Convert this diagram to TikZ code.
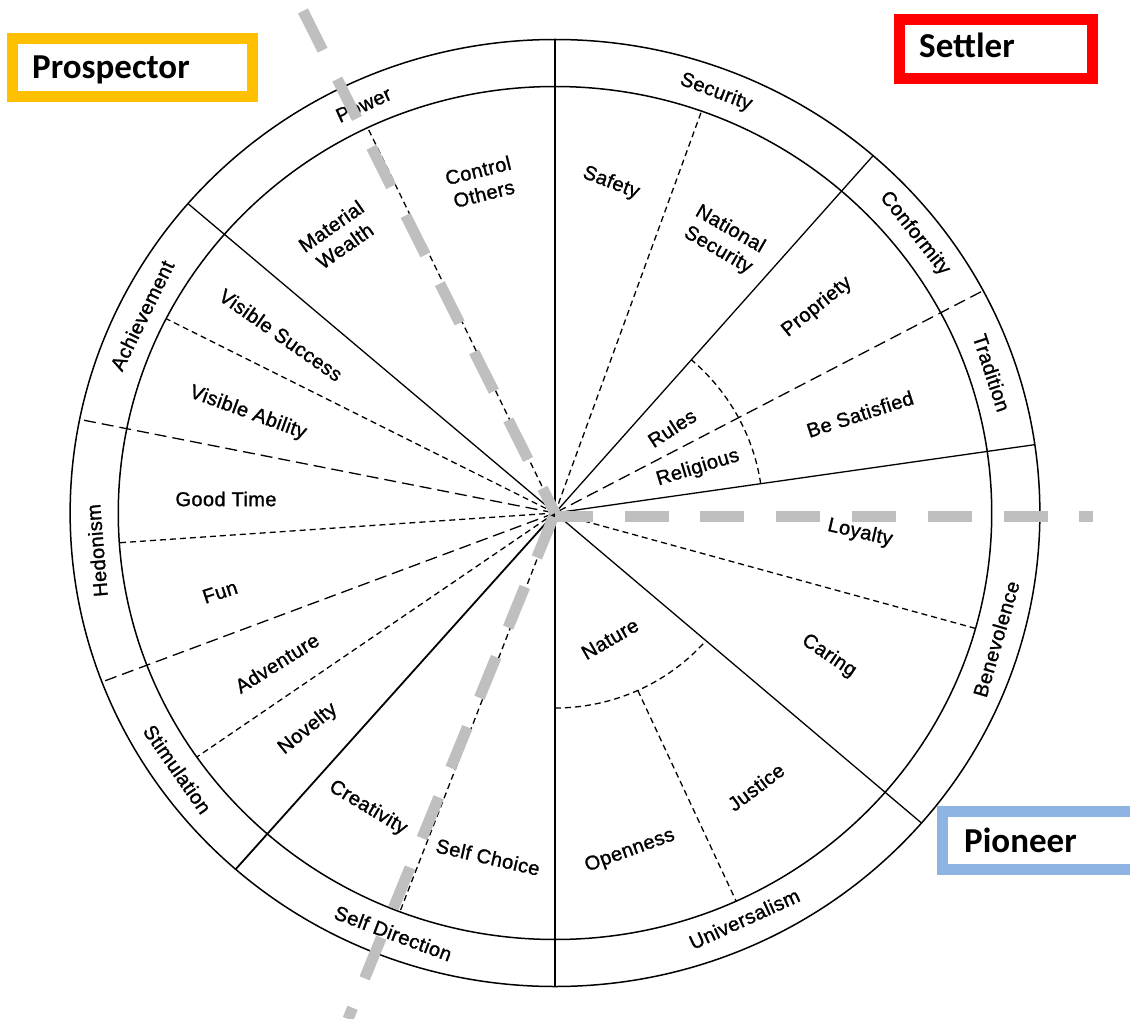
\documentclass[tikz,border=0pt]{standalone}
\usepackage{fontspec}
\setmainfont{Liberation Sans}
\newfontfamily\lblfont{Liberation Sans}[FakeBold=1.2, LetterSpace=2]
\newfontfamily\boxfont{Carlito}
\usetikzlibrary{positioning}

\definecolor{prospgold}{HTML}{FFC000}
\definecolor{settlred}{HTML}{FF0000}
\definecolor{pionblue}{HTML}{8EB4E3}
\definecolor{raygray}{HTML}{BFBFBF}

\tikzset{
  lbl/.style={font=\lblfont\fontsize{20}{24}\selectfont, align=center, inner sep=0pt},
  longdash/.style={dash pattern=on 12pt off 6pt},
  shortdash/.style={dash pattern=on 6pt off 4pt},
  grayray/.style={raygray, line width=11pt, dash pattern=on 44pt off 32pt},
  typebox/.style={line width=11pt},
  typetext/.style={font=\boxfont\bfseries\fontsize{35}{40}\selectfont, anchor=base west, inner sep=0pt}
}

\begin{document}
\begin{tikzpicture}[x=1pt, y=-1pt]
    \useasboundingbox (0,0) rectangle (1130,1019);
    \fill[white] (0,0) rectangle (1130,1019);

    % Draw the wheel
    \begin{scope}[shift={(555,513)}, xscale=1.024, yscale=-1, line width=1.3pt]
      \coordinate (hub) at (0,0);
      \draw[line width=1.5pt] (hub) circle [radius=473.5];
      \draw[line width=1.5pt] (hub) circle [radius=426.5];

      % Solid dividers between the value groups
      \draw (hub) -- (90:473.5);
      \draw (hub) -- (49:473.5);
      \draw (hub) -- (8.3:473.5);
      \draw (hub) -- (-40.9:473.5);
      \draw (hub) -- (-90:473.5);
      \draw[line width=1.8pt] (hub) -- (-131.2:473.5);
      \draw (hub) -- (139.2:473.5);

      % Dashed dividers between the value groups
      \draw[longdash] (hub) -- (28:473.5);
      \draw[longdash] (hub) -- (-159.1:473.5);
      \draw[longdash] (hub) -- (168.6:473.5);

      % Dashed lines inside the groups
      \draw[shortdash] (hub) -- (70.4:426.5);
      \draw[shortdash] (hub) -- (-15.7:426.5);
      \draw[shortdash] (hub) -- (-110.8:426.5);
      \draw[shortdash] (hub) -- (-145.1:426.5);
      \draw[shortdash] (hub) -- (-176:426.5);
      \draw[shortdash] (hub) -- (152.9:426.5);
      \draw[shortdash] (hub) -- (115.4:426.5);

      % Inner arcs
      \draw[shortdash] (8.3:203) arc[start angle=8.3, end angle=49, radius=203];
      \draw[shortdash] (-90:195) arc[start angle=-90, end angle=-40.9, radius=195];
      \draw[shortdash] (-65.5:195) -- (-65.5:426.5);

      % Ring labels
      \node[lbl, rotate=24.6] (power) at (114.6:449) {Power};
      \node[lbl, rotate=-20.5] (security) at (69.5:449) {Security};
      \node[lbl, rotate=-51.5] (conformity) at (38.5:449) {Conformity};
      \node[lbl, rotate=-71.8] (tradition) at (18.2:449) {Tradition};
      \node[lbl, rotate=73.7] (benevolence) at (-16.3:449) {Benevolence};
      \node[lbl, rotate=24.5] (universalism) at (-65.5:446) {Universalism};
      \node[lbl, rotate=-20.6] (selfdir) at (-110.6:449) {Self Direction};
      \node[lbl, rotate=-55.2] (stimulation) at (-145.2:449) {Stimulation};
      \node[lbl, rotate=94.8] (hedonism) at (184.8:449) {Hedonism};
      \node[lbl, rotate=63.9] (achievement) at (153.9:449) {Achievement};
    \end{scope}

    % Inner labels
    \node[lbl, rotate=14] (control) at (481,182) {Control\\Others};
    \node[lbl, rotate=35] (wealth) at (338,236) {Material\\Wealth};
    \node[lbl, rotate=-35] (vsuccess) at (281,335) {Visible Success};
    \node[lbl, rotate=-20] (vability) at (248,413) {Visible Ability};
    \node[lbl] (goodtime) at (226,499) {Good Time};
    \node[lbl, rotate=18] (fun) at (220,592) {Fun};
    \node[lbl, rotate=32] (adventure) at (277,663) {Adventure};
    \node[lbl, rotate=39] (novelty) at (308,729) {Novelty};
    \node[lbl, rotate=-31] (creativity) at (368,808) {Creativity};
    \node[lbl, rotate=-13] (selfchoice) at (488,857) {Self Choice};
    \node[lbl, rotate=20] (openness) at (630,851) {Openness};
    \node[lbl, rotate=37] (justice) at (756,787) {Justice};
    \node[lbl, rotate=30] (nature) at (610,639) {Nature};
    \node[lbl, rotate=-34] (caring) at (829,656) {Caring};
    \node[lbl, rotate=-13] (loyalty) at (860,533) {Loyalty};
    \node[lbl, rotate=18] (satisfied) at (860,414) {Be Satisfied};
    \node[lbl, rotate=17] (religious) at (698,468) {Religious};
    \node[lbl, rotate=33] (rules) at (672,428) {Rules};
    \node[lbl, rotate=39] (propriety) at (817,307) {Propriety};
    \node[lbl, rotate=-30] (natsec) at (724,240) {National\\Security};
    \node[lbl, rotate=-21] (safety) at (611,183) {Safety};

    % Type boxes
    \draw[typebox, prospgold] (12.5,38.5) rectangle (252.5,96.5);
    \node[typetext] (prospector) at (32,79) {Prospector};
    \draw[typebox, settlred] (899.5,19.5) rectangle (1092.5,78.5);
    \node[typetext] (settler) at (919,58) {Settler};
    \draw[typebox, pionblue] (942.5,811.5) rectangle (1135.5,869.5);
    \node[typetext] (pioneer) at (964,852) {Pioneer};

    % Gray dashed rays
    \coordinate (hubr) at (555,516);
    \coordinate (raytop) at (301,7);
    \coordinate (raybot) at (348,1019);
    \coordinate (rayright) at (1093,516);
    \draw[grayray, dash pattern=on 44pt off 32.3pt, dash phase=16.3pt] (hub) -- (raytop);
    \draw[grayray, dash pattern=on 44pt off 31.8pt, dash phase=71.8pt] (hub) -- (raybot);
    \draw[grayray, dash pattern=on 44pt off 31.8pt, dash phase=6.3pt] (hubr) -- (rayright);
\end{tikzpicture}
\end{document}
